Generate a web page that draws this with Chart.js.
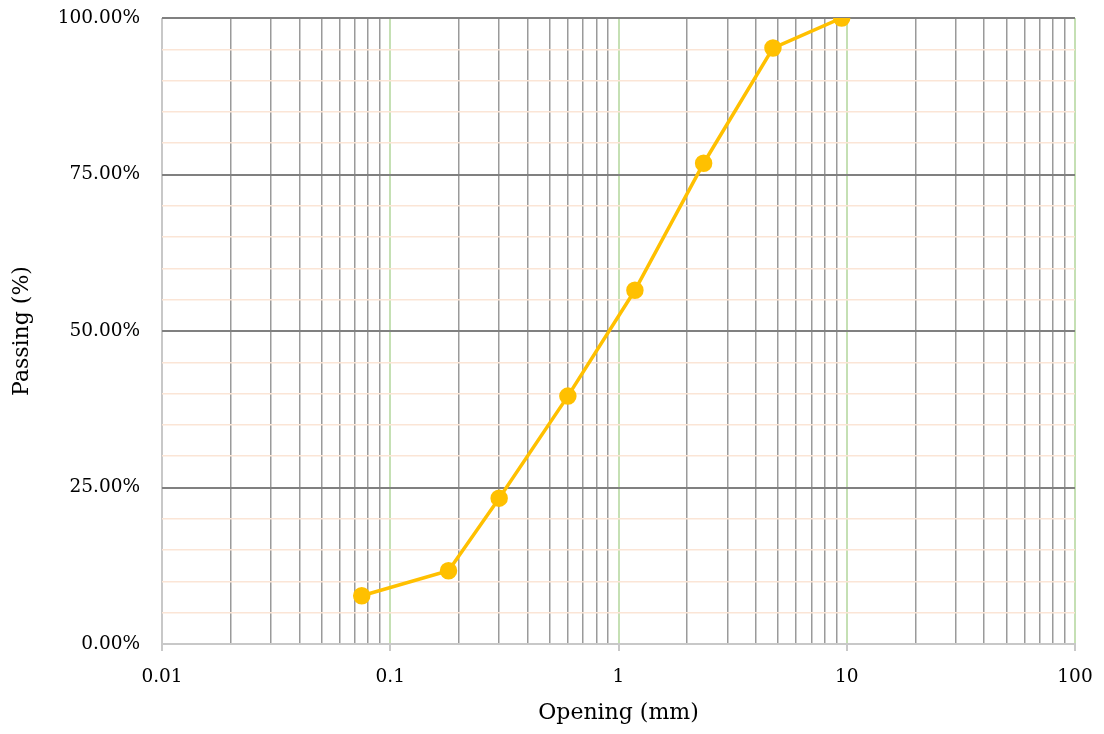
<!DOCTYPE html>
<html>
<head>
<meta charset="utf-8">
<script src="https://cdn.jsdelivr.net/npm/chart.js@4"></script>
<style>
  html, body { margin: 0; padding: 0; background: #fff; }
  #wrap { width: 1104px; height: 734px; }
</style>
</head>
<body>
<div id="wrap"><canvas id="chart"></canvas></div>
<script>
// sieve openings (mm) and percent passing
const openings = [0.075, 0.18, 0.3, 0.6, 1.18, 2.36, 4.75, 9.5];
const passing = [7.7, 11.7, 23.3, 39.6, 56.5, 76.8, 95.2, 100];

const xMin = 0.01, xMax = 100;
const xDecades = [0.01, 0.1, 1, 10];
const xMultipliers = [1, 2, 3, 4, 5, 6, 7, 8, 9];
const yTicksLabelled = [0, 25, 50, 75, 100];

const FONT = "'DejaVu Serif', 'Liberation Serif', serif";

function isDecade(v) {
  const l = Math.log10(v);
  return Math.abs(l - Math.round(l)) < 1e-6;
}

// 1..9 x each decade, plus the closing 100
const xTickValues = [];
xDecades.forEach(d => xMultipliers.forEach(m => xTickValues.push(Number((m * d).toPrecision(6)))));
xTickValues.push(xMax);

const ctx = document.getElementById('chart').getContext('2d');
new Chart(ctx, {
  type: 'line',
  data: {
    datasets: [{
      label: 'Passing',
      data: openings.map((x, i) => ({ x: x, y: passing[i] })),
      borderColor: '#FFC000',
      backgroundColor: '#FFC000',
      borderWidth: 3.5,
      pointRadius: 7,
      pointHoverRadius: 7,
      tension: 0
    }]
  },
  options: {
    responsive: true,
    maintainAspectRatio: false,
    animation: false,
    layout: { padding: { top: 18, right: 29, left: 0, bottom: 0 } },
    plugins: { legend: { display: false }, tooltip: { enabled: false } },
    scales: {
      x: {
        type: 'logarithmic',
        min: xMin,
        max: xMax,
        afterBuildTicks: scale => {
          scale.ticks = xTickValues.map(v => ({ value: v, major: isDecade(v) }));
        },
        afterFit: scale => {
          scale.height = 90;
          // keep the plot's right edge where the reference has it
          scale.paddingRight = 29;
          scale.paddingLeft = 0;
        },
        border: { color: '#c8c8c8', width: 2 },
        grid: {
          color: c => {
            const v = c.tick.value;
            if (Math.abs(v - xMin) < 1e-9) return '#c8c8c8';
            return isDecade(v) ? '#c5e0b4' : '#9a9a9a';
          },
          lineWidth: c => isDecade(c.tick.value) ? 2 : 1.5,
          tickColor: c => isDecade(c.tick.value) ? '#c8c8c8' : 'rgba(0,0,0,0)',
          tickLength: 7
        },
        ticks: {
          autoSkip: false,
          maxRotation: 0,
          padding: 15,
          color: '#000',
          font: { family: FONT, size: 18.5 },
          callback: v => isDecade(v) ? String(Number(v)) : ''
        },
        title: {
          display: true,
          text: 'Opening (mm)',
          color: '#000',
          font: { family: FONT, size: 22 },
          padding: { top: 2, bottom: 8 }
        }
      },
      y: {
        min: 0,
        max: 100,
        afterFit: scale => { scale.width = 162; },
        border: { display: false },
        grid: {
          // invisible tick marks used as label spacing
          tickLength: 22,
          tickColor: 'rgba(0,0,0,0)',
          color: c => {
            const v = c.tick.value;
            if (v === 0) return '#c8c8c8';
            return v % 25 === 0 ? '#808080' : '#fbe5d6';
          },
          lineWidth: c => c.tick.value % 25 === 0 ? 2 : 1.5
        },
        ticks: {
          stepSize: 5,
          autoSkip: false,
          padding: 0,
          color: '#000',
          font: { family: FONT, size: 18.5 },
          callback: v => yTicksLabelled.includes(v) ? v.toFixed(2) + '%' : ''
        },
        title: {
          display: true,
          text: 'Passing (%)',
          color: '#000',
          font: { family: FONT, size: 22 },
          padding: { top: 9, bottom: 0 }
        }
      }
    }
  }
});
</script>
</body>
</html>
